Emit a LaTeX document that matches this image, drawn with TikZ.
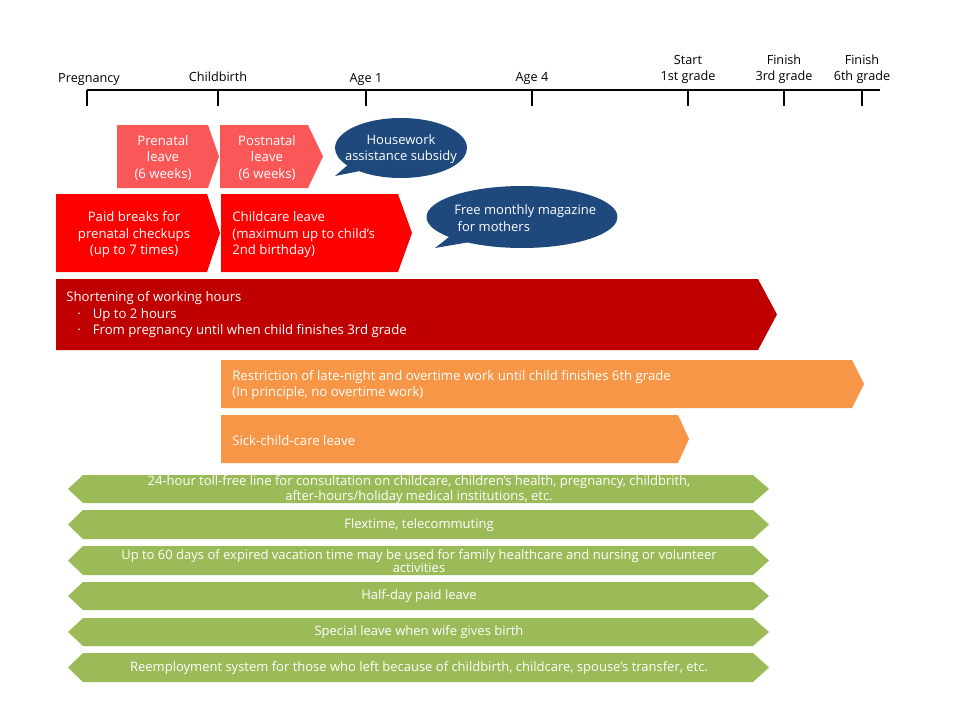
\documentclass[tikz,border=0pt]{standalone}
\usepackage{fontspec}
\setmainfont{Open Sans}
\usetikzlibrary{positioning,shapes.callouts}
\definecolor{SoftRed}{RGB}{250,88,88}
\definecolor{PureRed}{RGB}{255,0,0}
\definecolor{DeepRed}{RGB}{192,0,0}
\definecolor{LeafOrange}{RGB}{247,150,70}
\definecolor{LeafGreen}{RGB}{155,187,89}
\definecolor{NavyBubble}{RGB}{31,73,125}
\tikzset{
  axis/.style={line width=0.6pt,draw=black},
  tick/.style={line width=0.6pt,draw=black},
  tlabel/.style={inner sep=0pt,align=center,font=\fontsize{7.2}{9}\selectfont},
  bandtext/.style={inner sep=0pt,text=white,font=\fontsize{7.5}{9.4}\selectfont},
  greentext/.style={inner sep=0pt,text=white,align=center,font=\fontsize{7.4}{7.4}\selectfont},
  bubble/.style={ellipse callout,fill=NavyBubble,inner sep=0pt},
  bubbletext/.style={inner sep=0pt,text=white,font=\fontsize{7.4}{9.4}\selectfont}
}
% colour, left, top, flat end, bottom, tip
\newcommand{\bandarrow}[6]{%
  \fill[#1] (#2,#3) -- (#4,#3) -- (#6,{(#3+#5)/2}) -- (#4,#5) -- (#2,#5) -- cycle;}

\begin{document}
\begin{tikzpicture}[x=0.02cm,y=-0.02cm]
  \useasboundingbox (0,0) rectangle (960,720);

  % time line
  \draw[axis] (87,90) -- (880,90);
  \foreach \x/\name in {87/preg,218/birth,366/one,532/four,688/first,784/third,862/sixth} {
    \coordinate (t\name) at (\x,90);
    \draw[tick] (t\name) -- (\x,106);
  }
  \node[tlabel,anchor=base] (lpreg) at (89,82) {Pregnancy};
  \node[tlabel,anchor=base] (lbirth) at (218,81) {Childbirth};
  \node[tlabel,anchor=base] (lone) at (366,82) {Age 1};
  \node[tlabel,anchor=base] (lfour) at (532,81.5) {Age 4};
  \node[tlabel,above=0.12cm of tfirst] (lfirst) {Start\\1st grade};
  \node[tlabel,above=0.12cm of tthird] (lthird) {Finish\\3rd grade};
  \node[tlabel,above=0.12cm of tsixth] (lsixth) {Finish\\6th grade};

  % leave bands
  \bandarrow{SoftRed}{117}{125}{208}{188}{219}
  \bandarrow{SoftRed}{220}{125}{308}{188}{323}
  \node[bandtext,align=center] (prenatal) at (163,158) {Prenatal\\leave\\(6 weeks)};
  \node[bandtext,align=center] (postnatal) at (267,158) {Postnatal\\leave\\(6 weeks)};

  \bandarrow{PureRed}{56}{194}{207}{272}{220}
  \bandarrow{PureRed}{221}{194}{398}{272}{412}
  \node[bandtext,align=center] (checkups) at (134,235) {Paid breaks for\\prenatal checkups\\(up to 7 times)};
  \node[bandtext,align=left,anchor=west] (childcare) at (232,235) {Childcare leave\\(maximum up to child's\\2nd birthday)};

  \node[bubble,minimum width=2.64cm,minimum height=1.2cm,
    callout absolute pointer={(335,176)}] (housework) at (401,148) {};
  \node[bubbletext,align=center] (houseworktext) at (401,149) {Housework\\assistance subsidy};
  \node[bubble,minimum width=3.82cm,minimum height=1.24cm,
    callout absolute pointer={(435,248)}] (magazine) at (522,217) {};
  \node[bubbletext,align=left,anchor=west] (magazinetext) at (454,218) {Free monthly magazine\\\ for mothers};

  \bandarrow{DeepRed}{56}{279}{758}{350}{777}
  \node[bandtext,align=left,anchor=west] (shorten) at (66,315) {Shortening of working hours\\
    \hspace*{0.22cm}·\hspace{0.24cm}Up to 2 hours\\
    \hspace*{0.22cm}·\hspace{0.24cm}From pregnancy until when child finishes 3rd grade};

  \bandarrow{LeafOrange}{221}{360}{852}{408}{864}
  \bandarrow{LeafOrange}{221}{415}{678}{463}{689}
  \node[bandtext,align=left,anchor=west] (nightwork) at (232,385) {Restriction of late-night and overtime work until child finishes 6th grade\\(In principle, no overtime work)};
  \node[bandtext,anchor=west] (sickchild) at (232,441) {Sick-child-care leave};

  % support measures
  \foreach [count=\i] \ya/\yb/\txt in {
    475/503/{24-hour toll-free line for consultation on childcare, children's health, pregnancy, childbrith,\\after-hours/holiday medical institutions, etc.},
    510/539/{Flextime, telecommuting},
    546/575/{Up to 60 days of expired vacation time may be used for family healthcare and nursing or volunteer\\activities},
    582/610/{Half-day paid leave},
    618/646/{Special leave when wife gives birth},
    653/682/{Reemployment system for those who left because of childbirth, childcare, spouse's transfer, etc.}} {
    \fill[LeafGreen] (68,{(\ya+\yb)/2}) -- (83,\ya) -- (753,\ya) -- (769,{(\ya+\yb)/2}) -- (753,\yb) -- (83,\yb) -- cycle;
    \node[greentext] (support\i) at (419,{(\ya+\yb)/2+0.5}) {\txt};
  }
\end{tikzpicture}
\end{document}
